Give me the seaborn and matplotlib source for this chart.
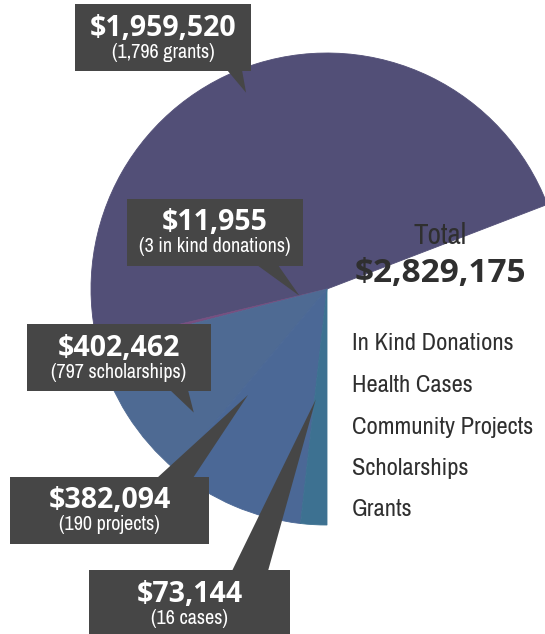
import numpy as np
import matplotlib
matplotlib.use("Agg")
import matplotlib.pyplot as plt
from matplotlib.patches import Rectangle, Polygon
import seaborn as sns

# data, in the order the slices run counter-clockwise
categories = ["Grants", "In Kind Donations", "Scholarships", "Community Projects", "Health Cases"]
amounts = [1959520, 11955, 402462, 382094, 73144]
counts = ["(1,796 grants)", "(3 in kind donations)", "(797 scholarships)", "(190 projects)", "(16 cases)"]
colors = ["#524f77", "#774f80", "#4e6a93", "#4b6896", "#3d7191"]
legend_labels = ["In Kind Donations", "Health Cases", "Community Projects", "Scholarships", "Grants"]

sns.set_theme(style="white")
narrow = ["Archivo Narrow", "DejaVu Sans"]
bold = ["Open Sans", "DejaVu Sans"]

W, H = 545, 634
fig = plt.figure(figsize=(W / 100, H / 100), dpi=100)
ax = fig.add_axes([0, 0, 1, 1])

def Y(y):
    # pixel rows from the top -> data y
    return H - y

# pie occupies the sweep from 21 deg round to straight down (270 deg)
cx, cy, R = 327, Y(289), 236
start, end = 21, 270
total = sum(amounts)
fracs = np.array(amounts) / total * (end - start) / 360
wedges, _ = ax.pie(fracs, colors=colors, startangle=start, counterclock=True,
                   normalize=False, radius=R, center=(cx, cy),
                   wedgeprops=dict(linewidth=0.6))
for w, c in zip(wedges, colors):
    w.set_edgecolor(c)

box_col = "#464646"
# callout boxes: (x0, y0, x1, y1) in pixels, pointer base (xa, xb, y), and where along the wedge the tip sits
callouts = {
    "Grants": ((75, 4, 251, 71), (227, 242, 70), 0.53, 0.90),
    "In Kind Donations": ((127, 199, 303, 266), (257, 278, 265), 0.5, 0.12),
    "Scholarships": ((27, 324, 211, 391), (170, 188, 390), 0.80, 0.77),
    "Community Projects": ((10, 477, 209, 544), (157, 193, 478), 0.10, 0.56),
    "Health Cases": ((89, 570, 290, 640), (232, 268, 571), 0.10, 0.47),
}

for w, cat, amt, cnt in zip(wedges, categories, amounts, counts):
    (x0, y0, x1, y1), (xa, xb, yb), f, r = callouts[cat]
    ang = np.deg2rad(w.theta1 + f * (w.theta2 - w.theta1))
    tip = (cx + r * R * np.cos(ang), cy + r * R * np.sin(ang))
    ax.add_patch(Polygon([(xa, Y(yb)), (xb, Y(yb)), tip], closed=True,
                         facecolor=box_col, edgecolor="none", zorder=5))
    ax.add_patch(Rectangle((x0, Y(y1)), x1 - x0, y1 - y0,
                           facecolor=box_col, edgecolor="none", zorder=6))
    xm = (x0 + x1) / 2
    ax.text(xm, Y(y0 + 24), f"${amt:,}", color="white", fontsize=20.5,
            fontweight="bold", family=bold, ha="center", va="center", zorder=7)
    ax.text(xm, Y(y0 + 48), cnt, color="white", fontsize=14.5,
            family=narrow, ha="center", va="center", zorder=7)

# total
ax.text(440, Y(236), "Total", fontsize=21, family=narrow, color="#2f2f2f",
        ha="center", va="center", zorder=4)
ax.text(440, Y(274), f"${total:,}", fontsize=24, fontweight="bold", family=bold,
        color="#2f2f2f", ha="center", va="center", zorder=4)

# legend list
for i, lab in enumerate(legend_labels):
    ax.text(352, Y(344 + i * 41.5), lab, fontsize=17.6, family=narrow,
            color="#2f2f2f", ha="left", va="center", zorder=4)

ax.set_xlim(0, W)
ax.set_ylim(0, H)
ax.set_aspect("auto")
ax.axis("off")

fig.savefig("out.png", dpi=100)
